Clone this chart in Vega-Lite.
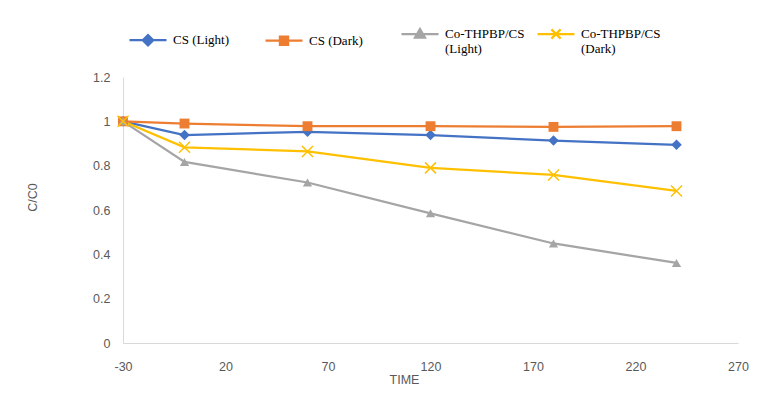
{
  "$schema": "https://vega.github.io/schema/vega-lite/v6.json",
  "width": 615,
  "height": 266,
  "autosize": {"type": "none"},
  "padding": {"left": 123, "top": 77, "right": 27, "bottom": 60},
  "background": "white",
  "config": {
    "view": {"stroke": null},
    "axis": {
      "labelFont": "Liberation Sans",
      "titleFont": "Liberation Sans",
      "labelColor": "#595959",
      "titleColor": "#595959",
      "labelFontSize": 12.5,
      "titleFontSize": 12.5,
      "titleFontWeight": "normal",
      "domainColor": "#D9D9D9",
      "domainWidth": 1,
      "ticks": false,
      "grid": false
    }
  },
  "data": {
    "values": [
      {"time": -30, "series": "CS (Light)", "value": 1.0},
      {"time": 0, "series": "CS (Light)", "value": 0.938},
      {"time": 60, "series": "CS (Light)", "value": 0.953},
      {"time": 120, "series": "CS (Light)", "value": 0.938},
      {"time": 180, "series": "CS (Light)", "value": 0.913},
      {"time": 240, "series": "CS (Light)", "value": 0.894},
      {"time": -30, "series": "CS (Dark)", "value": 1.0},
      {"time": 0, "series": "CS (Dark)", "value": 0.99},
      {"time": 60, "series": "CS (Dark)", "value": 0.978},
      {"time": 120, "series": "CS (Dark)", "value": 0.978},
      {"time": 180, "series": "CS (Dark)", "value": 0.975},
      {"time": 240, "series": "CS (Dark)", "value": 0.978},
      {"time": -30, "series": "Co-THPBP/CS (Light)", "value": 1.0},
      {"time": 0, "series": "Co-THPBP/CS (Light)", "value": 0.817},
      {"time": 60, "series": "Co-THPBP/CS (Light)", "value": 0.724},
      {"time": 120, "series": "Co-THPBP/CS (Light)", "value": 0.585},
      {"time": 180, "series": "Co-THPBP/CS (Light)", "value": 0.449},
      {"time": 240, "series": "Co-THPBP/CS (Light)", "value": 0.361},
      {"time": -30, "series": "Co-THPBP/CS (Dark)", "value": 1.0},
      {"time": 0, "series": "Co-THPBP/CS (Dark)", "value": 0.883},
      {"time": 60, "series": "Co-THPBP/CS (Dark)", "value": 0.864},
      {"time": 120, "series": "Co-THPBP/CS (Dark)", "value": 0.79},
      {"time": 180, "series": "Co-THPBP/CS (Dark)", "value": 0.758},
      {"time": 240, "series": "Co-THPBP/CS (Dark)", "value": 0.686}
    ]
  },
  "encoding": {
    "x": {
      "field": "time",
      "type": "quantitative",
      "scale": {"domain": [-30, 270], "nice": false, "zero": false},
      "axis": {"values": [-30, 20, 70, 120, 170, 220, 270], "title": "TIME", "labelPadding": 17, "titlePadding": 1, "titleX": 281, "labelFlush": false, "labelExpr": "datum.value < 0 ? '-' + abs(datum.value) : datum.label"}
    },
    "y": {
      "field": "value",
      "type": "quantitative",
      "scale": {"domain": [0, 1.2], "nice": false},
      "axis": {"values": [0, 0.2, 0.4, 0.6, 0.8, 1, 1.2], "title": "C/C0", "labelPadding": 13, "titlePadding": 53, "titleY": 120, "format": "~g"}
    },
    "color": {
      "field": "series",
      "type": "nominal",
      "sort": null,
      "scale": {
        "domain": ["CS (Light)", "CS (Dark)", "Co-THPBP/CS (Light)", "Co-THPBP/CS (Dark)"],
        "range": ["#4472C4", "#ED7D31", "#A5A5A5", "#FFC000"]
      },
      "legend": {
        "orient": "none",
        "legendX": 5,
        "legendY": -63,
        "direction": "horizontal",
        "title": null,
        "gridAlign": "all",
        "columnPadding": 8,
        "symbolSize": 1369,
        "symbolStrokeWidth": 2.25,
        "labelOffset": 5,
        "labelFont": "Liberation Serif",
        "labelFontSize": 13,
        "labelColor": "#000000",
        "labelLimit": 200,
        "labelExpr": "indexof(datum.label, 'Co-') == 0 ? split(datum.label, ' ') : datum.label",
        "encode": {
          "symbols": {
            "update": {
              "shape": {"signal": "datum.value == 'CS (Light)' ? 'M-1,0H1M0,-0.28L0.28,0L0,0.28L-0.28,0Z' : datum.value == 'CS (Dark)' ? 'M-1,0H1M-0.22,-0.22H0.22V0.22H-0.22Z' : datum.value == 'Co-THPBP/CS (Light)' ? 'M-1,0H1M0,-0.27L0.27,0.2H-0.27Z' : 'M-1,0H1M-0.25,-0.25L0.25,0.25M-0.25,0.25L0.25,-0.25'"},
              "fill": {"scale": "color", "field": "value"},
              "stroke": {"scale": "color", "field": "value"},
              "strokeWidth": {"value": 2.25},
              "opacity": {"value": 1}
            }
          }
        }
      }
    }
  },
  "layer": [
    {
      "mark": {"type": "line", "strokeWidth": 2.25}
    },
    {
      "transform": [{"filter": "datum.series != 'Co-THPBP/CS (Dark)'"}],
      "mark": {"type": "point", "filled": true, "opacity": 1},
      "encoding": {
        "shape": {
          "field": "series",
          "type": "nominal",
          "scale": {
            "domain": ["CS (Light)", "CS (Dark)", "Co-THPBP/CS (Light)"],
            "range": ["diamond", "square", "triangle-up"]
          },
          "legend": null
        },
        "size": {
          "field": "series",
          "type": "nominal",
          "scale": {
            "domain": ["CS (Light)", "CS (Dark)", "Co-THPBP/CS (Light)"],
            "range": [110, 85, 110]
          },
          "legend": null
        }
      }
    },
    {
      "transform": [{"filter": "datum.series == 'Co-THPBP/CS (Dark)'"}],
      "mark": {"type": "point", "filled": false, "opacity": 1, "shape": "M-1,-1L1,1M-1,1L1,-1", "size": 121, "strokeWidth": 1.5}
    }
  ]
}
